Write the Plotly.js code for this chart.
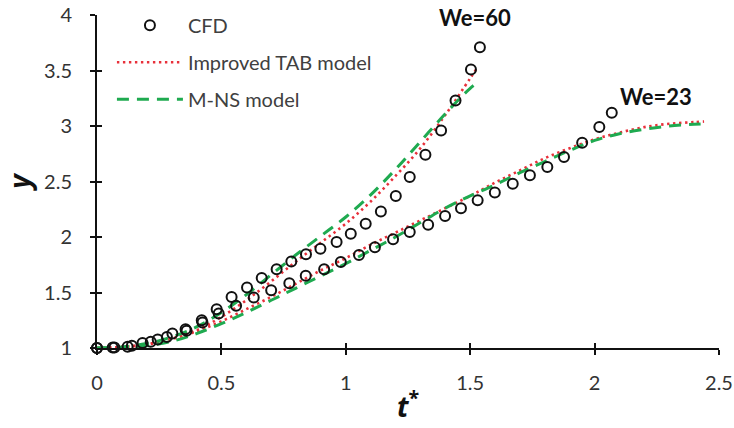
<!DOCTYPE html>
<html>
<head>
<meta charset="utf-8">
<script src="https://cdn.plot.ly/plotly-3.0.1.min.js"></script>
<style>html,body{margin:0;padding:0;background:#fff;}#chart{width:734px;height:428px;}</style>
</head>
<body>
<div id="chart"></div>
<script>
// CFD data, We=60
const tCFD60 = [0, 0.063, 0.123, 0.183, 0.244, 0.303, 0.356, 0.421, 0.481, 0.541, 0.603, 0.662, 0.722, 0.781, 0.840, 0.898, 0.963, 1.020, 1.080, 1.141, 1.201, 1.257, 1.320, 1.383, 1.441, 1.503, 1.539];
const yCFD60 = [1.00, 1.005, 1.012, 1.045, 1.077, 1.13, 1.17, 1.25, 1.35, 1.46, 1.545, 1.63, 1.71, 1.78, 1.845, 1.895, 1.955, 2.03, 2.12, 2.23, 2.37, 2.54, 2.74, 2.96, 3.23, 3.51, 3.71];
// CFD data, We=23
const tCFD23 = [0, 0.07, 0.14, 0.216, 0.281, 0.36, 0.424, 0.489, 0.559, 0.630, 0.700, 0.773, 0.839, 0.913, 0.980, 1.053, 1.117, 1.190, 1.257, 1.331, 1.399, 1.463, 1.530, 1.599, 1.671, 1.740, 1.810, 1.877, 1.950, 2.019, 2.069];
const yCFD23 = [1.00, 1.005, 1.02, 1.057, 1.10, 1.155, 1.23, 1.31, 1.38, 1.455, 1.52, 1.584, 1.65, 1.71, 1.775, 1.838, 1.907, 1.98, 2.045, 2.11, 2.19, 2.26, 2.33, 2.40, 2.48, 2.556, 2.63, 2.72, 2.85, 2.99, 3.12];
// Model curves, We=60
const tModel60 = [0, 0.1, 0.2, 0.3, 0.4, 0.5, 0.6, 0.7, 0.8, 0.9, 1.0, 1.1, 1.2, 1.3, 1.4, 1.5, 1.53];
const yTAB60 = [1.0, 1.01, 1.035, 1.085, 1.16, 1.28, 1.43, 1.60, 1.78, 1.95, 2.12, 2.32, 2.55, 2.80, 3.10, 3.43, 3.53];
const yMNS60 = [1.0, 1.01, 1.04, 1.10, 1.19, 1.32, 1.48, 1.66, 1.84, 2.01, 2.18, 2.38, 2.61, 2.86, 3.11, 3.34, 3.39];
// Model curves, We=23
const tModel23 = [0, 0.1, 0.2, 0.3, 0.4, 0.5, 0.6, 0.7, 0.8, 0.9, 1.0, 1.1, 1.2, 1.3, 1.4, 1.5, 1.6, 1.7, 1.8, 1.9, 2.0, 2.1, 2.2, 2.3, 2.4, 2.44];
const yTAB23 = [1.0, 1.01, 1.03, 1.08, 1.15, 1.24, 1.35, 1.46, 1.58, 1.70, 1.81, 1.93, 2.04, 2.15, 2.26, 2.37, 2.49, 2.60, 2.71, 2.80, 2.88, 2.94, 2.99, 3.02, 3.035, 3.04];
const yMNS23 = [1.0, 1.005, 1.02, 1.06, 1.13, 1.22, 1.32, 1.43, 1.54, 1.65, 1.76, 1.88, 2.00, 2.13, 2.26, 2.37, 2.47, 2.58, 2.68, 2.78, 2.87, 2.93, 2.97, 3.00, 3.015, 3.02];
// Labels
const seriesNames = ['CFD', 'Improved TAB model', 'M-NS model'];
const weLabels = ['We=60', 'We=23'];
const weLabelPos = [[1.52, 3.955], [2.245, 3.235]];
const xTicks = [0, 0.5, 1, 1.5, 2, 2.5];
const yTicks = [1, 1.5, 2, 2.5, 3, 3.5, 4];

const red = '#e8303a', green = '#1faa50';
const tabLine = {color: red, width: 2.6, dash: '2.4px,3.6px', shape: 'spline'};
const mnsLine = {color: green, width: 3, dash: '12px,8px', shape: 'spline'};
const cfdMarker = {symbol: 'circle-open', size: 10, color: '#111', line: {width: 2, color: '#111'}};
const fam = 'Lato, Open Sans, sans-serif';

const data = [
  {x: tModel60, y: yTAB60, mode: 'lines', line: tabLine, name: seriesNames[1], legendgroup: 'tab', legendrank: 2},
  {x: tModel23, y: yTAB23, mode: 'lines', line: tabLine, name: seriesNames[1], legendgroup: 'tab', showlegend: false},
  {x: tModel60, y: yMNS60, mode: 'lines', line: mnsLine, name: seriesNames[2], legendgroup: 'mns', legendrank: 3},
  {x: tModel23, y: yMNS23, mode: 'lines', line: mnsLine, name: seriesNames[2], legendgroup: 'mns', showlegend: false},
  {x: tCFD60, y: yCFD60, mode: 'markers', marker: cfdMarker, name: seriesNames[0], legendgroup: 'cfd', legendrank: 1, cliponaxis: false},
  {x: tCFD23, y: yCFD23, mode: 'markers', marker: cfdMarker, name: seriesNames[0], legendgroup: 'cfd', showlegend: false, cliponaxis: false, xaxis: 'x2', yaxis: 'y2'}
];

const tickFont = {family: fam, size: 20, color: '#333'};
const layout = {
  width: 734, height: 428,
  margin: {l: 97, r: 15, t: 15, b: 80, autoexpand: false},
  paper_bgcolor: '#fff', plot_bgcolor: '#fff',
  showlegend: true,
  legend: {x: 0.024, y: 1.028, xanchor: 'left', yanchor: 'top', itemwidth: 66, tracegroupgap: 8,
           font: {family: fam, size: 20, color: '#404040'}, bgcolor: 'rgba(0,0,0,0)'},
  xaxis: {range: [0, 2.5], tickvals: xTicks, ticktext: xTicks.map(String), showgrid: false, zeroline: false,
          showline: true, linecolor: '#111', linewidth: 2, ticks: 'outside', ticklen: 5, tickwidth: 2, tickcolor: '#111',
          tickfont: tickFont, ticklabelstandoff: 11,
          title: {text: '<b><i>t</i></b><sup><b>*</b></sup>', font: {family: 'Open Sans, sans-serif', size: 28, color: '#111'}, standoff: 4}},
  yaxis: {range: [1, 4], tickvals: yTicks, ticktext: yTicks.map(String), showgrid: false, zeroline: false,
          showline: true, linecolor: '#111', linewidth: 2, ticks: 'outside', ticklen: 5, tickwidth: 2, tickcolor: '#111',
          tickfont: tickFont, ticklabelstandoff: 14,
          title: {text: '<b><i>y</i></b>', font: {family: 'Open Sans, sans-serif', size: 28, color: '#111'}, standoff: 8}},
  xaxis2: {overlaying: 'x', matches: 'x', tickvals: xTicks, showticklabels: false, showgrid: false, zeroline: false,
           showline: false, ticks: 'inside', ticklen: 5, tickwidth: 2, tickcolor: '#111'},
  yaxis2: {overlaying: 'y', matches: 'y', tickvals: yTicks, showticklabels: false, showgrid: false, zeroline: false,
           showline: false, ticks: 'inside', ticklen: 5, tickwidth: 2, tickcolor: '#111'},
  annotations: weLabels.map((txt, i) => ({x: weLabelPos[i][0], y: weLabelPos[i][1], xref: 'x', yref: 'y', yshift: 3, text: '<b>' + txt + '</b>',
    showarrow: false, font: {family: fam, size: 22, color: '#111'}}))
};

Plotly.newPlot('chart', data, layout, {displayModeBar: false, staticPlot: true});
</script>
</body>
</html>
